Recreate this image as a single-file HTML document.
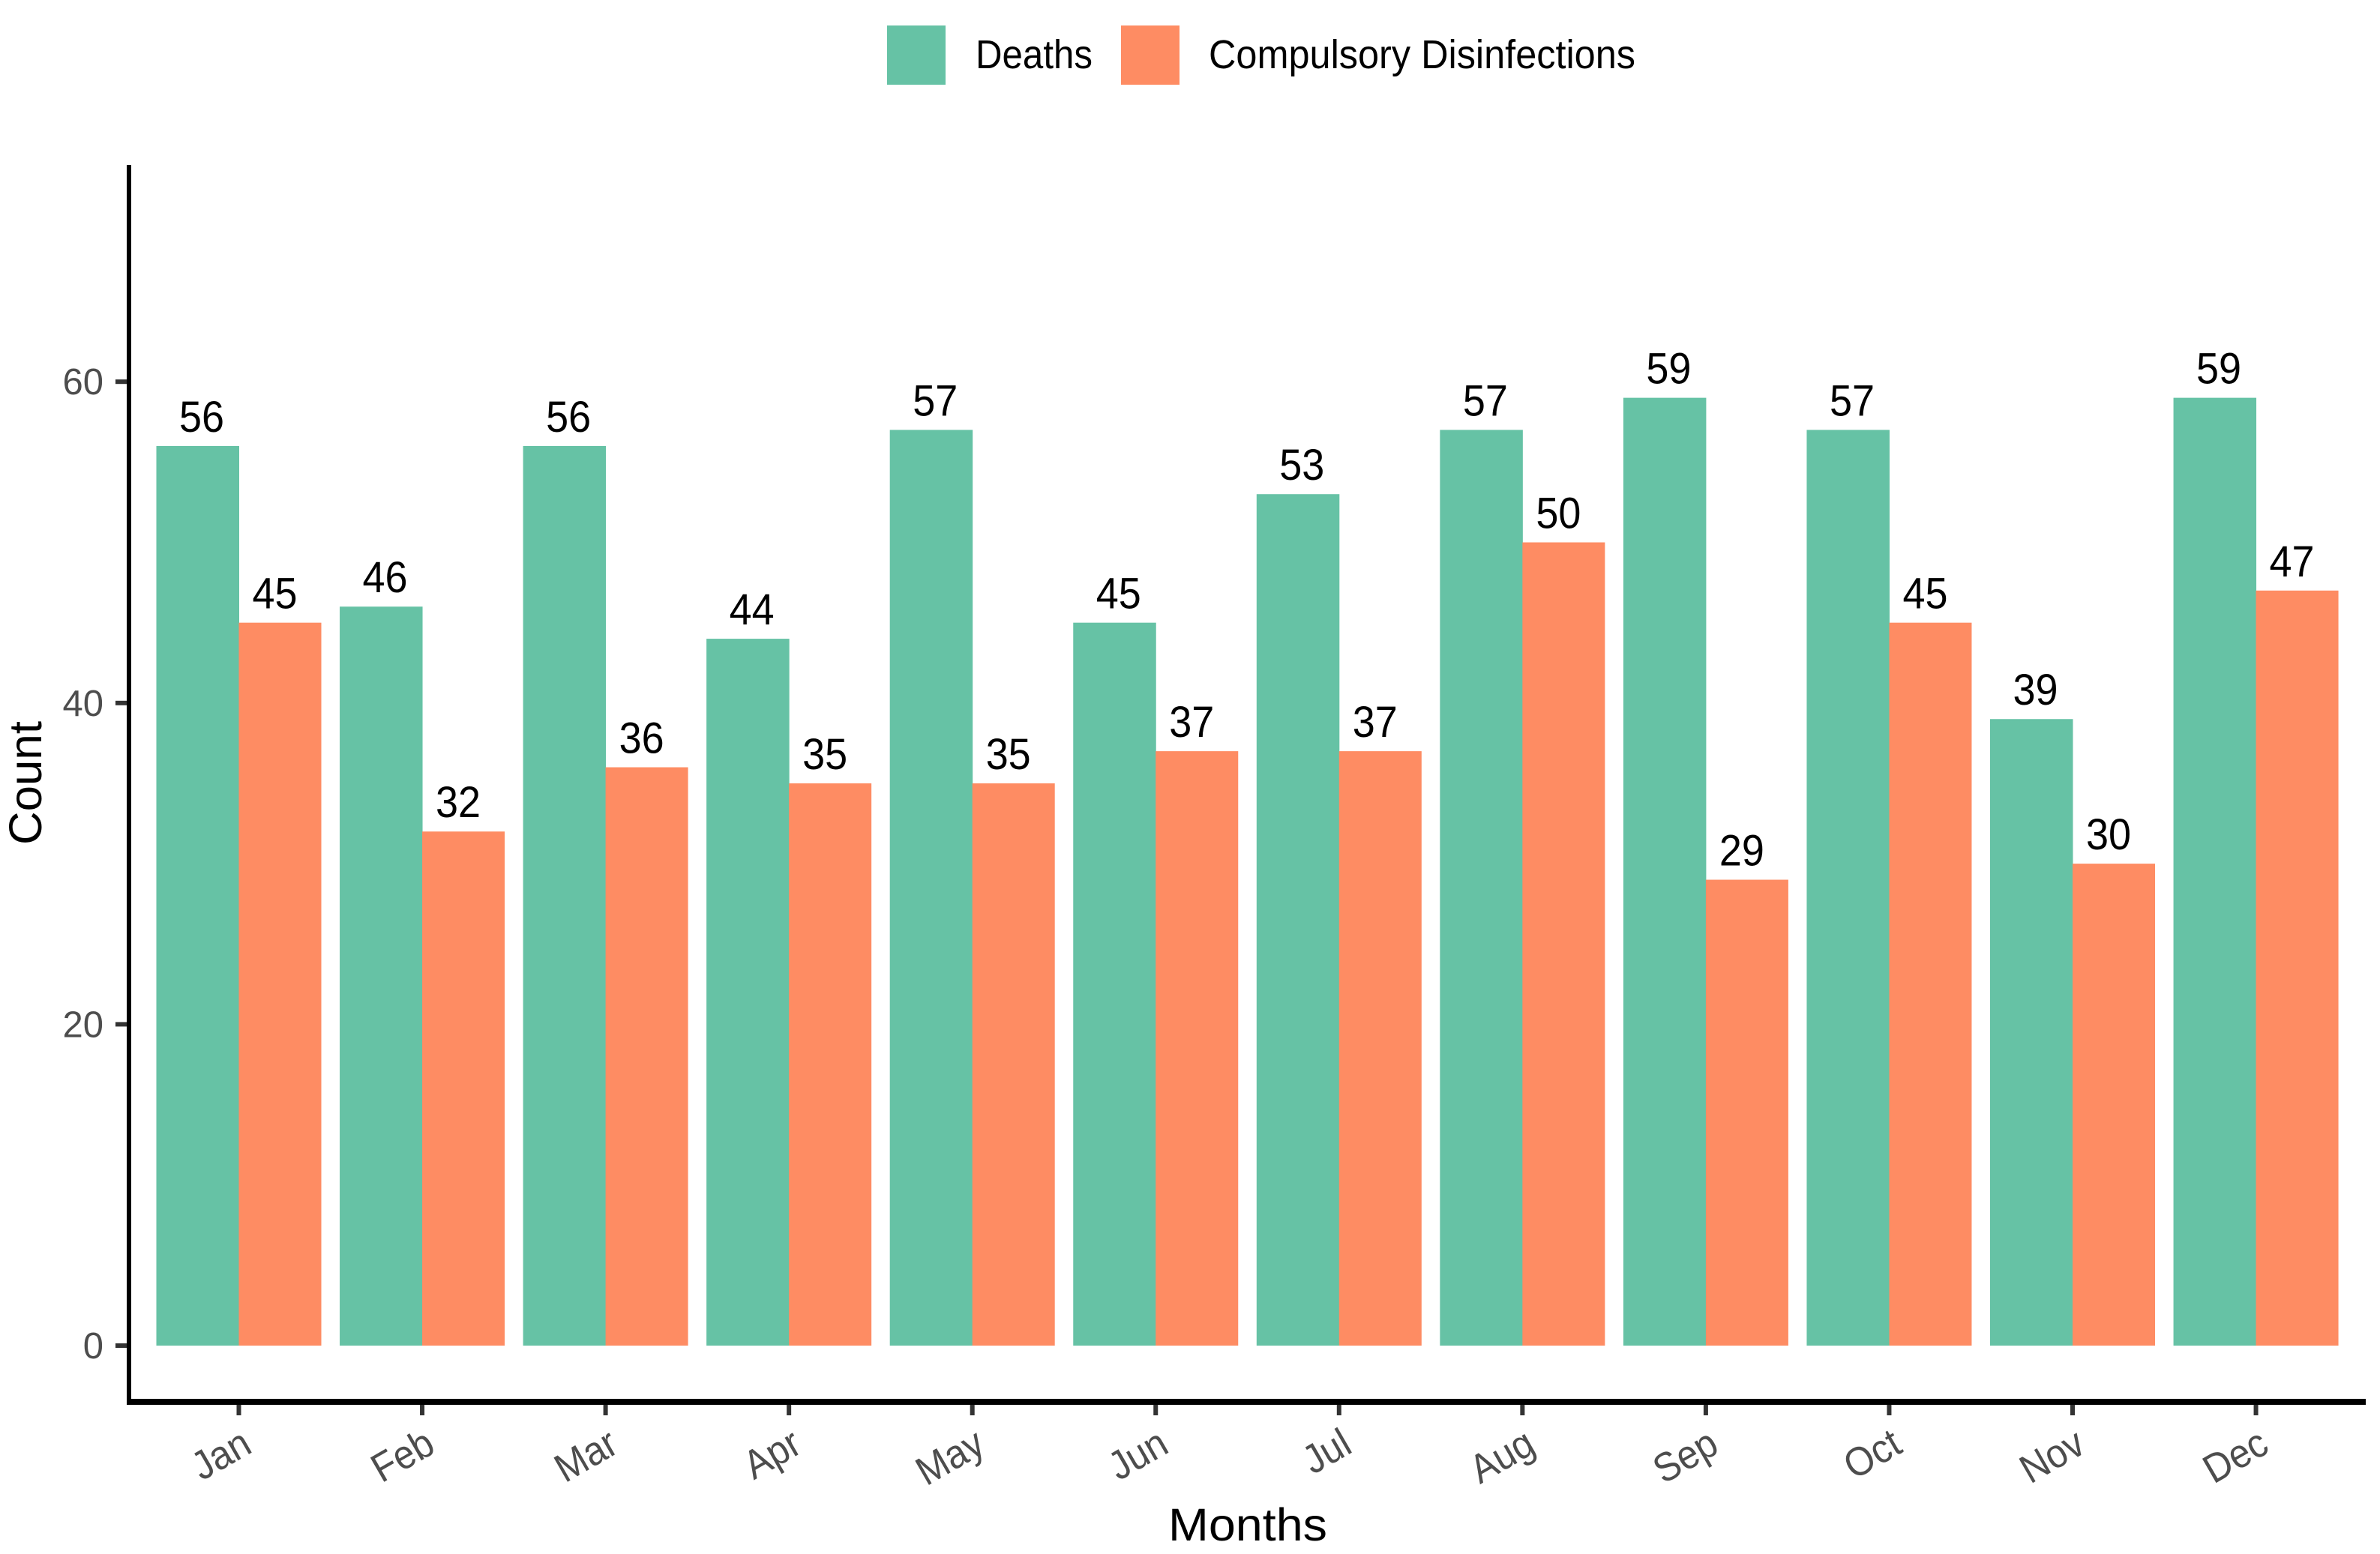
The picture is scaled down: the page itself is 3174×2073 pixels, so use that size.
<!DOCTYPE html>
<html lang="en">
<head>
<meta charset="utf-8">
<title>Deaths and Compulsory Disinfections by Month</title>
<style>
html,body{margin:0;padding:0;background:#fff;}
svg{display:block;}
text{font-family:"Liberation Sans",sans-serif;}
</style>
</head>
<body>
<svg id="chart" xmlns="http://www.w3.org/2000/svg" width="3174" height="2073" viewBox="0 0 3174 2073">
  <rect x="0" y="0" width="3174" height="2073" fill="#ffffff"/>
  <g>
    <rect x="1183" y="34" width="78" height="79" fill="#66c2a5"/>
    <text x="1301" y="91" font-size="54" fill="#000" textLength="156" lengthAdjust="spacingAndGlyphs">Deaths</text>
    <rect x="1495" y="34" width="78" height="79" fill="#fe8c63"/>
    <text x="1612" y="91" font-size="54" fill="#000" textLength="569" lengthAdjust="spacingAndGlyphs">Compulsory Disinfections</text>
  </g>
  <text transform="translate(55,1127) rotate(-90)" font-size="61" fill="#000" textLength="165" lengthAdjust="spacingAndGlyphs">Count</text>
  <text x="1558" y="2055" font-size="61" fill="#000" textLength="212" lengthAdjust="spacingAndGlyphs">Months</text>
  <g id="plot"></g>
</svg>
<script>
const months = ["Jan","Feb","Mar","Apr","May","Jun","Jul","Aug","Sep","Oct","Nov","Dec"];
const deaths = [56,46,56,44,57,45,53,57,59,57,39,59];
const disinfections = [45,32,36,35,35,37,37,50,29,45,30,47];
const yTicks = [0,20,40,60];

const NS = "http://www.w3.org/2000/svg";
const plot = document.getElementById("plot");
const firstCenter = 318.5, step = 244.55, barWidth = 110;
const xScale = function (i) { return firstCenter + step * i; };
const yScale = function (v) { return 1795 - v * 21.43; };
const AXIS_X = 172, AXIS_Y = 1870;

function make(tag, props, text) {
  const el = document.createElementNS(NS, tag);
  for (const k in props) el.setAttribute(k, props[k]);
  if (text !== undefined) el.textContent = text;
  plot.appendChild(el);
  return el;
}

months.forEach(function (m, i) {
  const cx = xScale(i);
  const b1 = make("rect", {x: cx - barWidth, y: yScale(deaths[i]), width: barWidth + 0.5, height: yScale(0) - yScale(deaths[i]), fill: "#66c2a5"});
  
  
  const b2 = make("rect", {x: cx, y: yScale(disinfections[i]), width: barWidth, height: yScale(0) - yScale(disinfections[i]), fill: "#fe8c63"});
  
  
  const l1 = make("text", {x: cx - 49.5, y: yScale(deaths[i]) - 19, "font-size": 58, fill: "#000", "text-anchor": "middle", textLength: 60, lengthAdjust: "spacingAndGlyphs"}, String(deaths[i]));
  
  
  const l2 = make("text", {x: cx + 48, y: yScale(disinfections[i]) - 19, "font-size": 58, fill: "#000", "text-anchor": "middle", textLength: 60, lengthAdjust: "spacingAndGlyphs"}, String(disinfections[i]));
  
  
  const t = make("rect", {x: cx - 3, y: AXIS_Y, width: 6, height: 18, fill: "#333333"});
  
  
  const tl = make("text", {transform: "translate(" + (cx + 20) + ",1936) rotate(-30) scale(0.92,1)", "font-size": 54, fill: "#4d4d4d", "text-anchor": "end"}, m);
  
  
});

yTicks.forEach(function (v) {
  const t = make("rect", {x: 154, y: yScale(v) - 3, width: 18, height: 6, fill: "#333333"});
  
  
  const tl = make("text", {x: 138, y: yScale(v) + 17, "font-size": 49, fill: "#4d4d4d", "text-anchor": "end"}, String(v));
  
  
});

const yAxis = make("rect", {x: AXIS_X - 3, y: 220, width: 6, height: AXIS_Y - 220 + 4, fill: "#000"});


const xAxis = make("rect", {x: AXIS_X - 3, y: AXIS_Y - 4, width: 3155 - AXIS_X + 3, height: 8, fill: "#000"});


</script>
</body>
</html>
